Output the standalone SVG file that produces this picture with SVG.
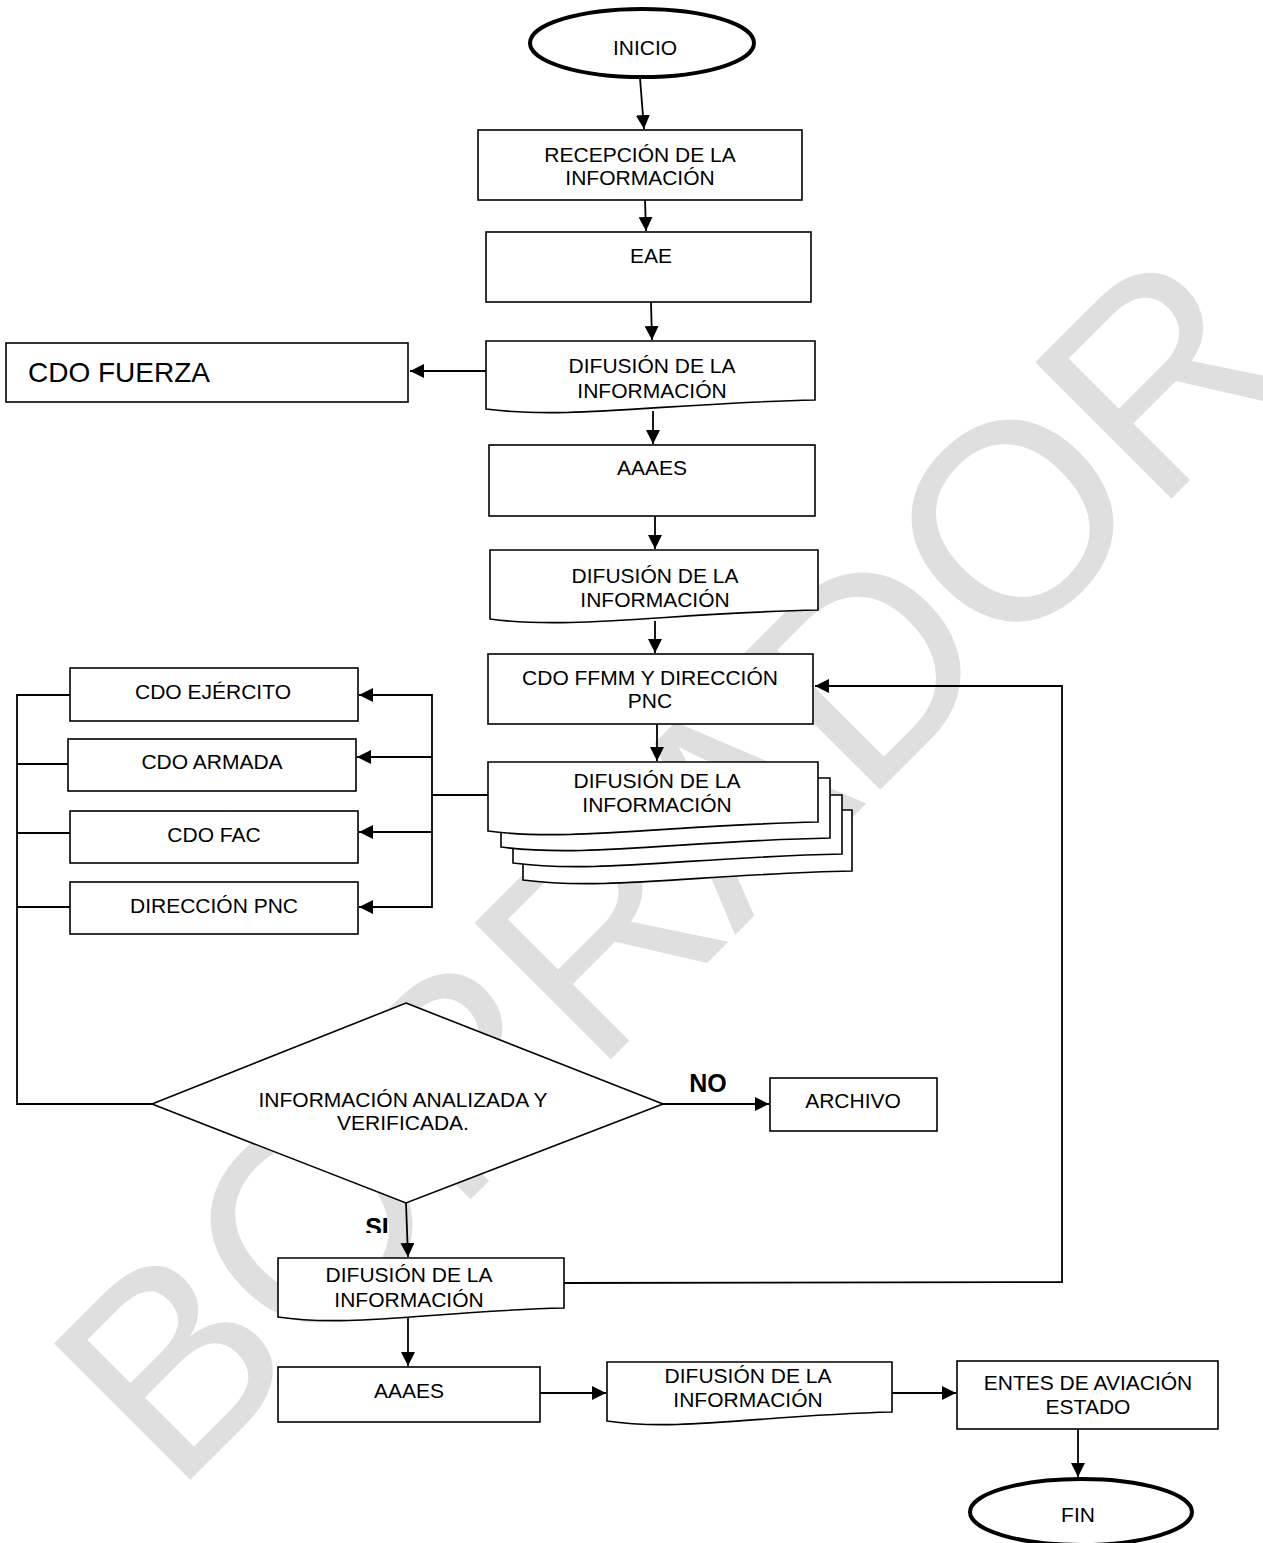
<svg xmlns="http://www.w3.org/2000/svg" width="1263" height="1543" viewBox="0 0 1263 1543">
<style>
  .t{font-family:"Liberation Sans",Arial,sans-serif;font-size:21px;fill:#000;text-anchor:middle}
  .b{stroke:#000;stroke-width:1.6;fill:#fff}
  .e{stroke:#000;stroke-width:4;fill:#fff}
  .c{stroke:#000;stroke-width:1.8;fill:none}
  .lbl{font-family:"Liberation Sans",Arial,sans-serif;font-size:25px;font-weight:bold;fill:#000;text-anchor:middle}
  .wm{font-family:"Liberation Sans",Arial,sans-serif;font-size:280px;fill:#dfdfdf}
</style>
<defs>
  <marker id="ah" markerUnits="userSpaceOnUse" markerWidth="15" markerHeight="14" refX="14" refY="7" orient="auto">
    <path d="M0,0 L14,7 L0,14 z" fill="#000"/>
  </marker>
  <clipPath id="siclip"><rect x="0" y="0" width="1263" height="1233"/></clipPath>
</defs>
<rect width="1263" height="1543" fill="#fff"/>
<text class="wm" transform="translate(174,1496) rotate(-45)" letter-spacing="-4">BORRADOR</text>

<g id="connectors">
  <line class="c" x1="640" y1="78" x2="644" y2="129" marker-end="url(#ah)"/>
  <line class="c" x1="645" y1="200" x2="646" y2="231" marker-end="url(#ah)"/>
  <line class="c" x1="651" y1="302" x2="652" y2="340" marker-end="url(#ah)"/>
  <line class="c" x1="486" y1="371" x2="410" y2="371" marker-end="url(#ah)"/>
  <line class="c" x1="653" y1="411" x2="653" y2="444" marker-end="url(#ah)"/>
  <line class="c" x1="655" y1="516" x2="655" y2="549" marker-end="url(#ah)"/>
  <line class="c" x1="655" y1="621" x2="655" y2="653" marker-end="url(#ah)"/>
  <line class="c" x1="657" y1="724" x2="657" y2="761" marker-end="url(#ah)"/>
  <line class="c" x1="488" y1="795" x2="432" y2="795"/>
  <line class="c" x1="432" y1="694" x2="432" y2="908"/>
  <line class="c" x1="432" y1="695" x2="359" y2="695" marker-end="url(#ah)"/>
  <line class="c" x1="432" y1="757" x2="357" y2="757" marker-end="url(#ah)"/>
  <line class="c" x1="432" y1="832" x2="359" y2="832" marker-end="url(#ah)"/>
  <line class="c" x1="432" y1="907" x2="359" y2="907" marker-end="url(#ah)"/>
  <line class="c" x1="17" y1="694" x2="17" y2="1105"/>
  <line class="c" x1="17" y1="695" x2="70" y2="695"/>
  <line class="c" x1="17" y1="764" x2="68" y2="764"/>
  <line class="c" x1="17" y1="833" x2="70" y2="833"/>
  <line class="c" x1="17" y1="907" x2="70" y2="907"/>
  <line class="c" x1="17" y1="1104" x2="152" y2="1104"/>
  <line class="c" x1="663" y1="1104" x2="769" y2="1104" marker-end="url(#ah)"/>
  <line class="c" x1="406" y1="1203" x2="408" y2="1257" marker-end="url(#ah)"/>
  <polyline class="c" points="564,1283 1062,1282 1062,686 815,686" marker-end="url(#ah)"/>
  <line class="c" x1="408" y1="1318" x2="408" y2="1366" marker-end="url(#ah)"/>
  <line class="c" x1="540" y1="1393" x2="606" y2="1393" marker-end="url(#ah)"/>
  <line class="c" x1="892" y1="1393" x2="956" y2="1393" marker-end="url(#ah)"/>
  <line class="c" x1="1078" y1="1429" x2="1078" y2="1477" marker-end="url(#ah)"/>
</g>

<g id="inicio">
  <ellipse class="e" cx="642" cy="43" rx="112" ry="34"/>
  <text class="t" x="645" y="55">INICIO</text>
</g>
<g id="recepcion">
  <rect class="b" x="478" y="130" width="324" height="70"/>
  <text class="t" x="640" y="162">RECEPCIÓN DE LA</text>
  <text class="t" x="640" y="185">INFORMACIÓN</text>
</g>
<g id="eae">
  <rect class="b" x="486" y="232" width="325" height="70"/>
  <text class="t" x="651" y="263">EAE</text>
</g>
<g id="difusion1">
  <path class="b" d="M486,341 H815 V400 C667,403 568,420 486,409 Z"/>
  <text class="t" x="652" y="373">DIFUSIÓN DE LA</text>
  <text class="t" x="652" y="398">INFORMACIÓN</text>
</g>
<g id="cdo-fuerza">
  <rect class="b" x="6" y="343" width="402" height="59"/>
  <text class="t" x="28" y="382" style="font-size:28px;text-anchor:start">CDO FUERZA</text>
</g>
<g id="aaaes1">
  <rect class="b" x="489" y="445" width="326" height="71"/>
  <text class="t" x="652" y="475">AAAES</text>
</g>
<g id="difusion2">
  <path class="b" d="M490,550 H818 V610 C670,613 572,630 490,619 Z"/>
  <text class="t" x="655" y="583">DIFUSIÓN DE LA</text>
  <text class="t" x="655" y="607">INFORMACIÓN</text>
</g>
<g id="cdo-ffmm">
  <rect class="b" x="488" y="654" width="325" height="70"/>
  <text class="t" x="650" y="685">CDO FFMM Y DIRECCIÓN</text>
  <text class="t" x="650" y="708">PNC</text>
</g>
<g id="difusion-multi">
  <path class="b" d="M523,810 H852 V871 C704,874 605,891 523,880 Z"/>
  <path class="b" d="M513,795 H842 V854 C694,857 595,874 513,863 Z"/>
  <path class="b" d="M501,778 H830 V838 C682,841 583,858 501,847 Z"/>
  <path class="b" d="M488,762 H818 V822 C670,825 570,842 488,831 Z"/>
  <text class="t" x="657" y="788">DIFUSIÓN DE LA</text>
  <text class="t" x="657" y="812">INFORMACIÓN</text>
</g>
<g id="cdo-ejercito">
  <rect class="b" x="70" y="668" width="288" height="53"/>
  <text class="t" x="213" y="699">CDO EJÉRCITO</text>
</g>
<g id="cdo-armada">
  <rect class="b" x="68" y="739" width="288" height="52"/>
  <text class="t" x="212" y="769">CDO ARMADA</text>
</g>
<g id="cdo-fac">
  <rect class="b" x="70" y="811" width="288" height="52"/>
  <text class="t" x="214" y="842">CDO FAC</text>
</g>
<g id="direccion-pnc">
  <rect class="b" x="70" y="882" width="288" height="52"/>
  <text class="t" x="214" y="913">DIRECCIÓN PNC</text>
</g>
<g id="decision">
  <polygon class="b" points="406,1003 663,1104 406,1203 152,1104"/>
  <text class="t" x="403" y="1107">INFORMACIÓN ANALIZADA Y</text>
  <text class="t" x="403" y="1130">VERIFICADA.</text>
</g>
<text class="lbl" x="708" y="1092">NO</text>
<text class="lbl" x="377" y="1236" clip-path="url(#siclip)">SI</text>
<g id="archivo">
  <rect class="b" x="770" y="1078" width="167" height="53"/>
  <text class="t" x="853" y="1108">ARCHIVO</text>
</g>
<g id="difusion3">
  <path class="b" d="M278,1258 H564 V1308 C435,1311 350,1328 278,1317 Z"/>
  <text class="t" x="409" y="1282">DIFUSIÓN DE LA</text>
  <text class="t" x="409" y="1307">INFORMACIÓN</text>
</g>
<g id="aaaes2">
  <rect class="b" x="278" y="1367" width="262" height="55"/>
  <text class="t" x="409" y="1398">AAAES</text>
</g>
<g id="difusion4">
  <path class="b" d="M607,1362 H892 V1412 C764,1415 678,1432 607,1421 Z"/>
  <text class="t" x="748" y="1383">DIFUSIÓN DE LA</text>
  <text class="t" x="748" y="1407">INFORMACIÓN</text>
</g>
<g id="entes">
  <rect class="b" x="957" y="1361" width="261" height="68"/>
  <text class="t" x="1088" y="1390">ENTES DE AVIACIÓN</text>
  <text class="t" x="1088" y="1414">ESTADO</text>
</g>
<g id="fin">
  <ellipse class="e" cx="1081" cy="1512" rx="111" ry="33"/>
  <text class="t" x="1078" y="1522">FIN</text>
</g>
</svg>
